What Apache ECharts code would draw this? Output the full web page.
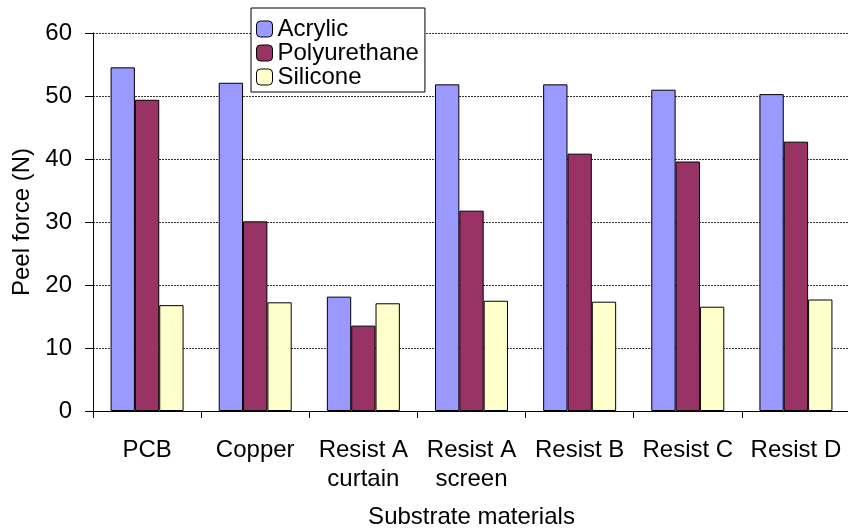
<!DOCTYPE html>
<html>
<head>
<meta charset="utf-8">
<script src="https://cdn.jsdelivr.net/npm/echarts@6/dist/echarts.min.js"></script>
<style>
  html, body { margin: 0; padding: 0; background: #ffffff; overflow: hidden; }
  #chart { width: 848px; height: 529px; }
</style>
</head>
<body>
<div id="chart"></div>
<script>
// Substrates tested and the measured peel force for each adhesive type
const categories = ['PCB', 'Copper', 'Resist A\ncurtain', 'Resist A\nscreen', 'Resist B', 'Resist C', 'Resist D'];
const acrylic      = [54.55, 52.1, 18.15, 51.85, 51.85, 51.0, 50.3];
const polyurethane = [49.4, 30.1, 13.55, 31.8, 40.85, 39.6, 42.75];
const silicone     = [16.8, 17.25, 17.1, 17.5, 17.35, 16.55, 17.7];
const seriesNames  = ['Acrylic', 'Polyurethane', 'Silicone'];
const seriesColors = ['#9999FF', '#993366', '#FFFFCC'];

const font = 'Liberation Sans, Arial, sans-serif';
const fs = 24;
const chart = echarts.init(document.getElementById('chart'), null, { renderer: 'canvas', width: 848, height: 529 });

const seriesData = [acrylic, polyurethane, silicone];

chart.setOption({
  backgroundColor: '#ffffff',
  animation: false,
  textStyle: { fontFamily: font, color: '#000' },
  grid: { left: 93, top: 33, width: 757, height: 378, containLabel: false, outerBoundsMode: 'none' },
  legend: {
    orient: 'vertical',
    left: 251,
    top: 8,
    padding: [9, 6, 3, 5],
    backgroundColor: '#ffffff',
    borderColor: '#000000',
    borderWidth: 1,
    itemWidth: 16,
    itemHeight: 16,
    itemGap: 0,
    itemTextGap: 9,
    itemStyle: { borderColor: '#000', borderWidth: 1 },
    textStyle: { fontFamily: font, fontSize: fs, color: '#000', lineHeight: 24 },
    data: seriesNames
  },
  xAxis: {
    type: 'category',
    data: categories,
    name: 'Substrate materials',
    nameLocation: 'middle',
    nameGap: 94,
    nameTextStyle: { fontFamily: font, fontSize: fs, color: '#000' },
    axisLine: { lineStyle: { color: '#000', width: 1 } },
    axisTick: { show: true, length: 7, lineStyle: { color: '#000' } },
    axisLabel: { fontFamily: font, fontSize: fs, color: '#000', margin: 25, lineHeight: 29, interval: 0 },
    splitLine: { show: false }
  },
  yAxis: {
    type: 'value',
    min: 0,
    max: 60,
    interval: 10,
    name: 'Peel force (N)',
    nameLocation: 'middle',
    nameGap: 58,
    nameTextStyle: { fontFamily: font, fontSize: fs, color: '#000' },
    axisLine: { show: true, lineStyle: { color: '#000', width: 1 } },
    axisTick: { show: true, length: 8, lineStyle: { color: '#000' } },
    axisLabel: { fontFamily: font, fontSize: fs, color: '#000', margin: 21 },
    splitLine: { show: true, lineStyle: { color: '#333', width: 1, type: [2, 1] } }
  },
  series: seriesNames.map((name, i) => ({
    name: name,
    type: 'bar',
    data: seriesData[i],
    barGap: '0%',
    barCategoryGap: '32.5%',
    itemStyle: { color: seriesColors[i], borderColor: '#000', borderWidth: 1 }
  }))
});
</script>
</body>
</html>
